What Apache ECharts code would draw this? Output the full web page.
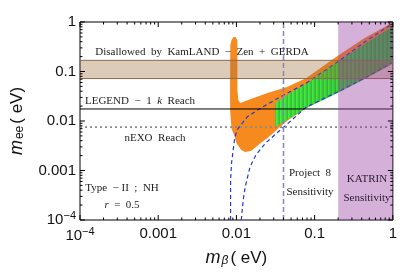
<!DOCTYPE html>
<html><head><meta charset="utf-8">
<script src="https://cdn.jsdelivr.net/npm/echarts@6/dist/echarts.min.js"></script>
<style>html,body{margin:0;padding:0;background:#fff}#c{width:400px;height:274px}</style>
</head><body><div id="c"></div>
<script>
// ---- data ----
const xRange = [1e-4, 1];
const yRange = [1e-4, 1];
const tickLabels = {'-4': '10^-4', '-3': '0.001', '-2': '0.01', '-1': '0.1', '0': '1'};
// allowed region (orange), m_beta [eV], m_ee [eV]
const orangeRegion = [
  [0.00867,0.433],[0.00918,0.498],[0.00972,0.498],[0.01029,0.433],[0.01029,0.171],
  [0.01029,0.0423],[0.01059,0.0266],[0.01121,0.0231],[0.01410,0.0266],[0.02497,0.0368],
  [0.04426,0.0486],[0.07843,0.0739],[0.1958,0.2056],[0.4363,0.475],[0.9718,0.96],
  [0.9718,0.1485],[0.4363,0.0739],[0.1958,0.0385],[0.07843,0.0183],[0.04426,0.0100],
  [0.02497,0.00453],[0.02045,0.00359],[0.01772,0.00298],[0.01536,0.00248],[0.01294,0.00236],
  [0.01154,0.00259],[0.0100,0.00359],[0.00944,0.0050],[0.00867,0.00689],[0.00830,0.0167],
  [0.00830,0.0673],[0.00835,0.343]
];
// region (green)
const greenRegion = [
  [0.03141,0.0231],[0.05107,0.0385],[0.07843,0.0559],[0.1958,0.1555],[0.4363,0.359],[0.9718,0.792],
  [0.9718,0.1417],[0.4363,0.0705],[0.1958,0.0368],[0.07843,0.0183],[0.05107,0.01204],[0.03141,0.00756]
];
// NH boundaries (blue dashed)
const upperBoundary = [
  [0.00842,0.0001],[0.00842,0.000254],[0.00842,0.000643],[0.00867,0.00142],[0.00944,0.00413],
  [0.0100,0.00599],[0.01059,0.00722],[0.01370,0.01204],[0.02045,0.0183],[0.03837,0.0320],
  [0.07843,0.0586],[0.1958,0.1555],[0.4363,0.394],[0.9718,0.911]
];
const lowerBoundary = [
  [0.01154,0.0001],[0.01222,0.000254],[0.01294,0.000464],[0.01493,0.00118],[0.01772,0.00206],
  [0.02359,0.00359],[0.03521,0.00628],[0.05107,0.01047],[0.07843,0.0192],[0.1958,0.0385],
  [0.4363,0.0739],[0.9718,0.1485]
];
const excludedBand = [0.072, 0.168];   // KamLAND-Zen + GERDA
const legendReach = 0.0175;
const nexoReach = 0.0075;
const project8 = 0.04;
const katrinBand = [0.2, 1];

// ---- chart ----
const chart = echarts.init(document.getElementById('c'), null, {renderer: 'canvas'});
function fmt(v) {
  const s = tickLabels[String(Math.round(Math.log10(v)))];
  if (!s) return '';
  if (s.indexOf('^') >= 0) { const p = s.split('^'); return '{b|' + p[0] + '}{s|' + p[1].replace('-', '−') + '}'; }
  return '{b|' + s + '}';
}
const richLab = {b: {fontFamily: 'Liberation Sans', fontSize: 15, color: '#111'},
                 s: {fontFamily: 'Liberation Sans', fontSize: 11, color: '#111', padding: [0, 0, 9, 0]}};

// tick marks (all four sides)
const tickData = [];
for (let e = -4; e <= 0; e++) {
  const base = Math.pow(10, e);
  tickData.push([base, yRange[0], 5, 0]);
  tickData.push([xRange[0], base, 5, 1]);
  if (e < 0) for (let k = 2; k <= 9; k++) {
    tickData.push([k * base, yRange[0], 2.5, 0]);
    tickData.push([xRange[0], k * base, 2.5, 1]);
  }
}
function tickRender(params, api) {
  const v0 = api.value(0), v1 = api.value(1), len = api.value(2), dir = api.value(3);
  const st = {stroke: '#000', lineWidth: 1};
  if (dir === 0) {
    const b = api.coord([v0, yRange[0]]), t = api.coord([v0, yRange[1]]);
    return {type: 'group', children: [
      {type: 'line', shape: {x1: b[0], y1: b[1], x2: b[0], y2: b[1] - len}, style: st},
      {type: 'line', shape: {x1: t[0], y1: t[1], x2: t[0], y2: t[1] + len}, style: st}]};
  }
  const l = api.coord([xRange[0], v1]), r = api.coord([xRange[1], v1]);
  return {type: 'group', children: [
    {type: 'line', shape: {x1: l[0], y1: l[1], x2: l[0] + len, y2: l[1]}, style: st},
    {type: 'line', shape: {x1: r[0], y1: r[1], x2: r[0] - len, y2: r[1]}, style: st}]};
}
function polyRender(points, style) {
  return function (params, api) {
    return {type: 'polygon', shape: {points: points.map(p => api.coord(p))}, style: style};
  };
}
function rectRender(x0, x1, y0, y1, style) {
  return function (params, api) {
    const a = api.coord([x0, y1]), b = api.coord([x1, y0]);
    return {type: 'rect', shape: {x: a[0], y: a[1], width: b[0] - a[0], height: b[1] - a[1]}, style: style};
  };
}
// softly striped green texture
const pc = document.createElement('canvas'); pc.width = 4; pc.height = 4;
const pctx = pc.getContext('2d');
['#42f242', '#3fe63f', '#3ad03a', '#38c238'].forEach((c, i) => { pctx.fillStyle = c; pctx.fillRect(i, 0, 1, 4); });
const greenPattern = {image: pc, repeat: 'repeat'};
const greenShade = new echarts.graphic.LinearGradient(0, 0, 1, 0, [
  {offset: 0, color: 'rgba(40,110,40,0)'}, {offset: 0.3, color: 'rgba(40,110,40,0.08)'}, {offset: 1, color: 'rgba(40,110,40,0.42)'}]);

const serif = 'Liberation Serif';
const txt = (x, y, text, extra) => ({type: 'text', x: x, y: y, z: 100,
  style: Object.assign({text: text, fontFamily: serif, fontSize: 11, fill: '#222',
    align: 'center', verticalAlign: 'middle',
    rich: {i: {fontFamily: serif, fontSize: 11, fontStyle: 'italic', fill: '#222'}}}, extra || {})});

chart.setOption({
  animation: false,
  backgroundColor: '#fff',
  grid: {left: 72, right: 6, top: 22, bottom: 54, show: true, borderColor: '#000', borderWidth: 1, backgroundColor: 'transparent'},
  xAxis: {type: 'log', logBase: 10, min: xRange[0], max: xRange[1],
    axisLine: {show: false}, axisTick: {show: false}, splitLine: {show: false},
    axisLabel: {formatter: fmt, rich: richLab, margin: 6, showMinLabel: true, showMaxLabel: true},
    name: '{m|m}{sub|β}{t|( eV)}', nameLocation: 'middle', nameGap: 29,
    nameTextStyle: {rich: {
      m: {fontFamily: 'Liberation Sans', fontStyle: 'italic', fontSize: 18, color: '#111'},
      sub: {fontFamily: 'Liberation Sans', fontStyle: 'italic', fontSize: 12, color: '#111', padding: [6, 2, 0, 1]},
      t: {fontFamily: 'Liberation Sans', fontSize: 17, color: '#111'}}}},
  yAxis: {type: 'log', logBase: 10, min: yRange[0], max: yRange[1],
    axisLine: {show: false}, axisTick: {show: false}, splitLine: {show: false},
    axisLabel: {formatter: fmt, rich: richLab, margin: 4, showMinLabel: true, showMaxLabel: true},
    name: '{m|m}{sub|ee}{t|( eV)}', nameLocation: 'middle', nameGap: 54, nameRotate: 90,
    nameTextStyle: {rich: {
      m: {fontFamily: 'Liberation Sans', fontStyle: 'italic', fontSize: 18, color: '#111'},
      sub: {fontFamily: 'Liberation Sans', fontSize: 12, color: '#111', padding: [6, 2, 0, 1]},
      t: {fontFamily: 'Liberation Sans', fontSize: 17, color: '#111'}}}},
  series: [
    {type: 'custom', z: 2, clip: true, data: [[0.01, 0.01]],
      renderItem: polyRender(orangeRegion, {fill: '#f68a1e'})},
    {type: 'custom', z: 3, clip: true, data: [[0.1, 0.05]],
      renderItem: polyRender(greenRegion, {fill: greenPattern})},
    {type: 'custom', z: 3, clip: true, data: [[0.1, 0.05]],
      renderItem: polyRender(greenRegion, {fill: greenShade})},
    {type: 'line', z: 4, data: upperBoundary, symbol: 'none', silent: true,
      lineStyle: {color: '#2436d8', width: 1.2, type: [4, 3]}},
    {type: 'line', z: 4, data: lowerBoundary, symbol: 'none', silent: true,
      lineStyle: {color: '#2436d8', width: 1.2, type: [4, 3]}},
    {type: 'line', z: 5, data: [[xRange[0], legendReach], [xRange[1], legendReach]], symbol: 'none',
      lineStyle: {color: '#000', width: 1}},
    {type: 'line', z: 5, data: [[xRange[0], nexoReach], [xRange[1], nexoReach]], symbol: 'none',
      lineStyle: {color: '#8a8a8a', width: 1.8, type: [2, 3]}},
    {type: 'custom', z: 6, clip: true, data: [[0.01, 0.1]],
      renderItem: rectRender(xRange[0], xRange[1], excludedBand[0], excludedBand[1],
        {fill: 'rgba(160,110,60,0.36)', stroke: '#8e6a4e', lineWidth: 1})},
    {type: 'custom', z: 6, clip: true, data: [[0.5, 0.01]],
      renderItem: rectRender(katrinBand[0], katrinBand[1], yRange[0], yRange[1],
        {fill: 'rgba(150,60,160,0.40)'})},
    {type: 'line', z: 7, data: [[project8, yRange[0]], [project8, yRange[1]]], symbol: 'none',
      lineStyle: {color: '#8585b5', width: 1.5, type: [5, 3]}},
    {type: 'custom', z: 8, clip: false, data: tickData, encode: {x: 0, y: 1},
      renderItem: tickRender}
  ],
  graphic: [
    txt(202, 52, 'Disallowed  by  KamLAND  −  Zen  +  GERDA'),
    txt(140, 101, 'LEGEND  −  1  {i|k}  Reach'),
    txt(155, 138, 'nEXO  Reach'),
    txt(122, 188, 'Type  − II  ;  NH'),
    txt(122, 205, '{i|r}  =  0.5'),
    txt(310, 173, 'Project  8'),
    txt(310, 192, 'Sensitivity'),
    txt(367, 179, 'KATRIN', {fill: '#2a1a30'}),
    txt(367, 198, 'Sensitivity', {fill: '#2a1a30'})
  ]
});
</script></body></html>
